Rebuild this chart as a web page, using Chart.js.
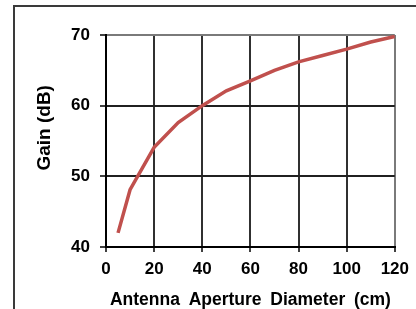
<!DOCTYPE html>
<html>
<head>
<meta charset="utf-8">
<script src="https://cdn.jsdelivr.net/npm/chart.js@4.4.1/dist/chart.umd.min.js"></script>
<style>
  html, body { margin: 0; padding: 0; background: #fff; }
  #wrap { position: relative; width: 416px; height: 309px; }
</style>
</head>
<body>
<div id="wrap"><canvas id="c"></canvas></div>
<script>
// Data
const diameters = [5, 10, 20, 30, 40, 50, 60, 70, 80, 90, 100, 110, 120]; // cm
const gains = [42.0, 48.1, 54.1, 57.6, 60.0, 62.1, 63.5, 65.0, 66.2, 67.1, 68.0, 69.0, 69.8]; // dB
const xTicks = [0, 20, 40, 60, 80, 100, 120];
const yTicks = [40, 50, 60, 70];
const xTitle = 'Antenna\u2002Aperture\u2002Diameter\u2002(cm)';
const yTitle = '     Gain (dB)';

const points = diameters.map((d, i) => ({ x: d, y: gains[i] }));

const framePlugin = {
  id: 'frame',
  beforeDraw(chart) {
    const ctx = chart.ctx;
    ctx.save();
    ctx.fillStyle = '#fff';
    ctx.fillRect(0, 0, chart.width, chart.height);
    ctx.strokeStyle = '#3a3a3a';
    ctx.lineWidth = 2;
    ctx.strokeRect(14, 6, 600, 600);
    ctx.restore();
  }
};

const FAMILY = 'Liberation Sans, Arial, sans-serif';

new Chart(document.getElementById('c'), {
  type: 'line',
  data: {
    datasets: [{
      data: points,
      borderColor: '#C0504D',
      borderWidth: 3.5,
      pointRadius: 0,
      tension: 0,
      fill: false,
      borderCapStyle: 'butt'
    }]
  },
  options: {
    responsive: true,
    maintainAspectRatio: false,
    animation: false,
    devicePixelRatio: 1,
    layout: { padding: { top: 35, right: 19, left: 0, bottom: 0 } },
    plugins: { legend: { display: false }, tooltip: { enabled: false } },
    scales: {
      x: {
        type: 'linear',
        min: xTicks[0],
        max: xTicks[xTicks.length - 1],
        afterBuildTicks(scale) { scale.ticks = xTicks.map(v => ({ value: v })); },
        afterFit(scale) { scale.height = 62; },
        ticks: {
          color: '#000',
          font: { family: FAMILY, size: 17, weight: 'bold' },
          padding: 7,
          maxRotation: 0
        },
        grid: {
          color: ctx => (ctx.tick && ctx.tick.value === 120) ? '#7a7a7a' : '#303030',
          lineWidth: 2,
          tickColor: '#000',
          tickLength: 5,
          tickWidth: 1.5
        },
        border: { color: '#000', width: 2 },
        title: {
          display: true,
          text: xTitle,
          color: '#000',
          font: { family: FAMILY, size: 17.5, weight: 'bold', lineHeight: 1 },
          padding: { top: 0, bottom: 0 }
        }
      },
      y: {
        type: 'linear',
        min: yTicks[0],
        max: yTicks[yTicks.length - 1],
        afterBuildTicks(scale) { scale.ticks = yTicks.map(v => ({ value: v })); },
        afterFit(scale) { scale.width = 106; },
        ticks: {
          color: '#000',
          font: { family: FAMILY, size: 17, weight: 'bold' },
          padding: 10
        },
        grid: {
          color: ctx => (ctx.tick && ctx.tick.value === 70) ? '#7a7a7a' : '#202020',
          lineWidth: 2,
          tickColor: '#000',
          tickLength: 6,
          tickWidth: 1.5
        },
        border: { color: '#000', width: 2 },
        title: {
          display: true,
          text: yTitle,
          color: '#000',
          font: { family: FAMILY, size: 19, weight: 'bold', lineHeight: 1.2 },
          padding: { top: 33, bottom: 0 }
        }
      }
    }
  },
  plugins: [framePlugin]
});
</script>
</body>
</html>
